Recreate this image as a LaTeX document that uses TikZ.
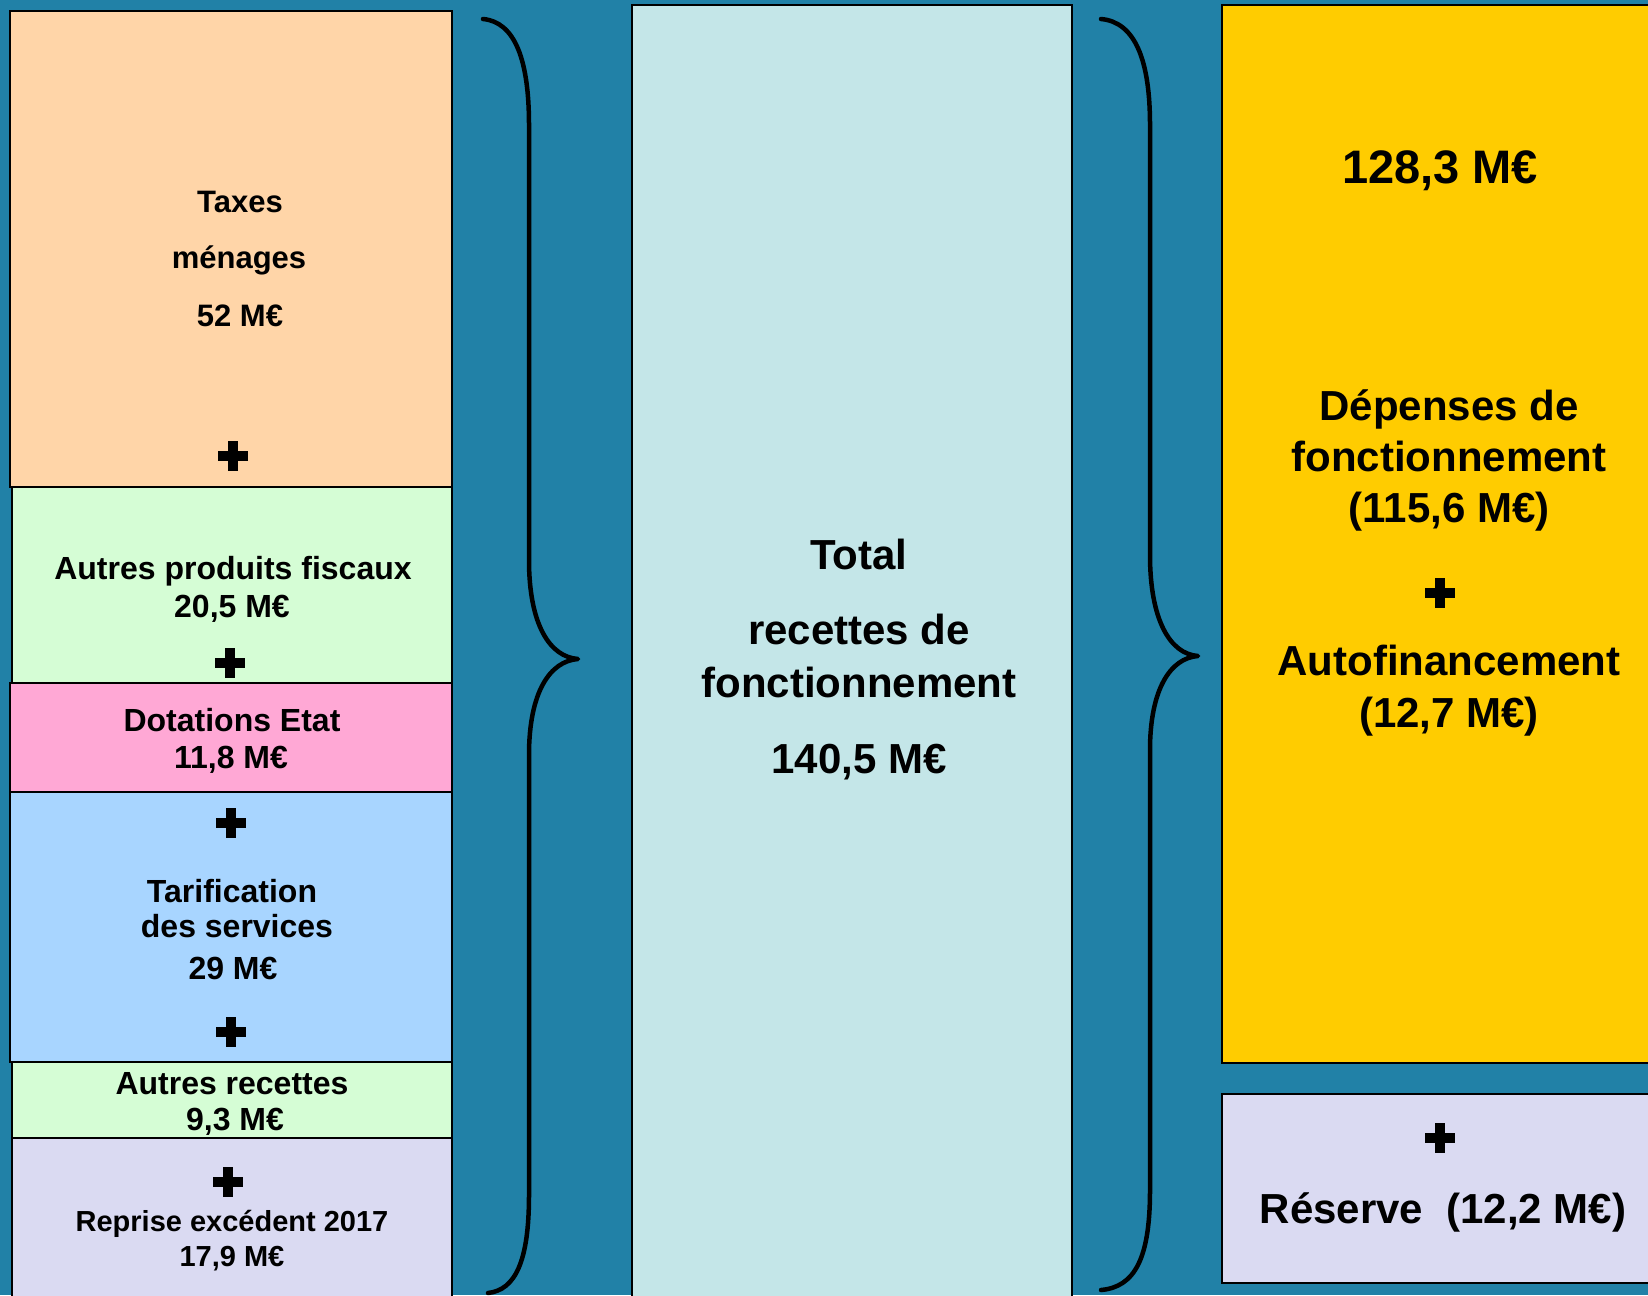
\documentclass[tikz,border=0pt]{standalone}
\usepackage{fontspec}
\setmainfont{Liberation Sans}
\definecolor{bgblue}{RGB}{33,129,167}
\definecolor{peach}{RGB}{255,213,168}
\definecolor{mint}{RGB}{213,253,213}
\definecolor{rosepink}{RGB}{255,168,213}
\definecolor{skyblue}{RGB}{168,213,255}
\definecolor{lavender}{RGB}{218,218,242}
\definecolor{paleaqua}{RGB}{196,230,232}
\definecolor{gold}{RGB}{255,204,0}
\begin{document}
\begin{tikzpicture}[x=1pt,y=-1pt,
  box/.style={draw=black, line width=2pt, inner sep=0pt, outer sep=0pt, anchor=north west},
  lblA/.style={font=\bfseries\fontsize{32}{38}\selectfont, inner sep=0pt, anchor=base},
  lblT/.style={font=\bfseries\fontsize{31}{37}\selectfont, inner sep=0pt, anchor=base},
  lblR/.style={font=\bfseries\fontsize{29}{35}\selectfont, inner sep=0pt, anchor=base},
  lblB/.style={font=\bfseries\fontsize{42}{50}\selectfont, inner sep=0pt, anchor=base},
  lblC/.style={font=\bfseries\fontsize{47}{56}\selectfont, inner sep=0pt, anchor=base},
  bracestroke/.style={line width=4.5pt, line cap=round, line join=round},
  plussign/.style={minimum size=30pt, inner sep=0pt, outer sep=0pt,
    path picture={
      \fill ([xshift=-15pt,yshift=-5pt]path picture bounding box.center) rectangle ([xshift=15pt,yshift=5pt]path picture bounding box.center);
      \fill ([xshift=-5pt,yshift=-15pt]path picture bounding box.center) rectangle ([xshift=5pt,yshift=15pt]path picture bounding box.center);
    }}]
\useasboundingbox (0,0) rectangle (1648,1295);
\fill[bgblue] (0,0) rectangle (1648,1295);
\begin{scope}
\clip (0,0) rectangle (1648,1295);
% left column boxes
\node[box, fill=peach, minimum width=442pt, minimum height=476pt] (taxes) at (10,11) {};
\node[box, fill=mint, minimum width=440pt, minimum height=196pt] (autprod) at (12,487) {};
\node[box, fill=rosepink, minimum width=442pt, minimum height=109pt] (dotations) at (10,683) {};
\node[box, fill=skyblue, minimum width=442pt, minimum height=270pt] (tarif) at (10,792) {};
\node[box, fill=mint, minimum width=440pt, minimum height=76pt] (autrec) at (12,1062) {};
\node[box, fill=lavender, minimum width=440pt, minimum height=220pt] (reprise) at (12,1138) {};
% middle box
\node[box, fill=paleaqua, minimum width=440pt, minimum height=1320pt] (total) at (632,5) {};
% right boxes
\node[box, fill=gold, minimum width=450pt, minimum height=1058pt] (depenses) at (1222,5) {};
\node[box, fill=lavender, minimum width=450pt, minimum height=189pt] (reserve) at (1222,1094) {};
\end{scope}

% braces
\draw[bracestroke] (483,19) .. controls (515,22) and (529,60) .. (529,125)
  -- (529,560) .. controls (529,625) and (550,657) .. (578,659)
  .. controls (550,661) and (529,692) .. (529,755)
  -- (529,1195) .. controls (529,1262) and (515,1290) .. (488,1293);
\draw[bracestroke] (1101,19) .. controls (1135,22) and (1150,60) .. (1150,125)
  -- (1150,555) .. controls (1150,620) and (1170,654) .. (1198,656)
  .. controls (1170,658) and (1150,690) .. (1150,750)
  -- (1150,1190) .. controls (1150,1258) and (1135,1287) .. (1101,1290);

% left texts
\node[lblT] (taxA) at (240,212) {Taxes};
\node[lblT] (taxB) at (239,268) {ménages};
\node[lblT] (taxC) at (240,326) {52 M€};
\node[plussign] (plusA) at (233,456) {};
\node[lblA] (apA) at (233,579) {Autres produits fiscaux};
\node[lblA] (apB) at (232,617) {20,5 M€};
\node[plussign] (plusB) at (230,663) {};
\node[lblA] (dotA) at (232,731) {Dotations Etat};
\node[lblA] (dotB) at (231,768) {11,8 M€};
\node[plussign] (plusC) at (231,823) {};
\node[lblA] (tarA) at (232,902) {Tarification};
\node[lblA] (tarB) at (237,937) {des services};
\node[lblA] (tarC) at (233,979) {29 M€};
\node[plussign] (plusD) at (231,1032) {};
\node[lblA] (arA) at (232,1094) {Autres recettes};
\node[lblA] (arB) at (235,1130) {9,3 M€};
\node[plussign] (plusE) at (228,1182) {};
\node[lblR] (repA) at (232,1231) {Reprise excédent 2017};
\node[lblR] (repB) at (232,1266) {17,9 M€};

% middle texts
\node[lblB] (totA) at (859,569) {Total};
\node[lblB] (totB) at (859,644) {recettes de};
\node[lblB] (totC) at (859,697) {fonctionnement};
\node[lblB] (totD) at (859,773) {140,5 M€};

% right texts
\node[lblC] (depA) at (1440,183) {128,3 M€};
\node[lblB] (depB) at (1449,420) {Dépenses de};
\node[lblB] (depC) at (1449,471) {fonctionnement};
\node[lblB] (depD) at (1449,522) {(115,6 M€)};
\node[plussign] (plusF) at (1440,593) {};
\node[lblB] (autA) at (1449,675) {Autofinancement};
\node[lblB] (autB) at (1449,727) {(12,7 M€)};
\node[plussign] (plusG) at (1440,1138) {};
\node[lblB] (resA) at (1443,1223) {Réserve~~(12,2 M€)};
\end{tikzpicture}
\end{document}
